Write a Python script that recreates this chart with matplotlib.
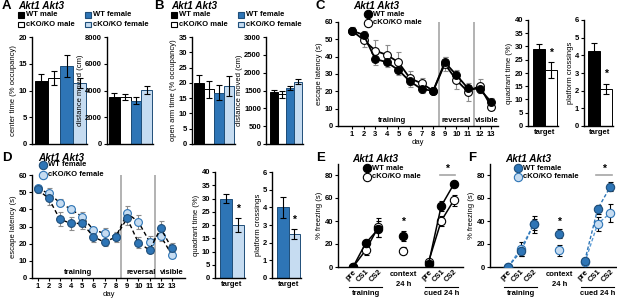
import matplotlib
matplotlib.use('Agg')
import matplotlib.pyplot as plt
import matplotlib.transforms as mtrans
from matplotlib.patches import Rectangle
from matplotlib.lines import Line2D
from matplotlib.ticker import FuncFormatter
import numpy as np

plt.rcParams['font.family'] = ['Liberation Sans', 'DejaVu Sans']
plt.rcParams['font.weight'] = 'bold'
plt.rcParams['font.size'] = 5.5

# ---------------- data ----------------
# A / B : four groups
groups4 = ['WT male', 'cKO/KO male', 'WT female', 'cKO/KO female']
center_time = [11.8, 12.3, 14.6, 11.4]
center_time_err = [1.3, 1.3, 2.0, 0.9]
dist_A = [3550, 3520, 3230, 4030]
dist_A_err = [250, 200, 250, 300]
open_arm = [19.9, 17.9, 16.8, 19.0]
open_arm_err = [2.8, 2.7, 2.5, 3.2]
dist_B = [1450, 1400, 1565, 1740]
dist_B_err = [70, 100, 60, 70]

# C / D : Morris water maze escape latency
days = list(range(1, 14))
C_wt = [55, 52.6, 38.7, 36.8, 32.3, 25.7, 21.3, 20.3, 36.8, 29.4, 21.7, 21.3, 13.9]
C_wt_err = [2, 2, 3.5, 3, 3, 3, 2, 2, 3, 3, 2, 2, 2]
C_ko = [55, 49.7, 43.5, 41, 36.8, 27.5, 24.6, 20.3, 35.8, 26.5, 19.7, 23.2, 11.2]
C_ko_err = [2, 4, 6, 6, 6, 4, 3, 2, 4, 5, 5, 4, 2]
D_wt = [51.6, 46.4, 34.2, 31.8, 31.8, 24.0, 20.8, 24.0, 34.8, 20.6, 16.3, 28.9, 17.3]
D_wt_err = [2, 4, 4, 4, 3, 3, 2, 2, 4, 3, 2, 4.5, 3]
D_ko = [52.2, 49.3, 43.9, 40.0, 35.7, 28.0, 26.0, 24.0, 37.7, 32.8, 21.2, 24.5, 13.4]
D_ko_err = [2, 3, 2, 2, 3, 2, 3, 3, 4, 4, 3, 3, 2]

C_quad = [29, 21]
C_quad_err = [2, 3]
C_cross = [4.25, 2.1]
C_cross_err = [0.45, 0.3]
D_quad = [30, 20]
D_quad_err = [1.8, 2.5]
D_cross = [4.0, 2.5]
D_cross_err = [0.6, 0.3]

# E / F : fear conditioning
fc_train_x = [0, 1, 2]
fc_ctx_x = [4]
fc_cued_x = [6, 7, 8]
fc_ticklabels = ['pre', 'CS1', 'CS2', 'pre', 'CS1', 'CS2']
E_wt_train = [0, 20.6, 33];  E_wt_train_err = [0, 3, 7]
E_ko_train = [0, 14.5, 34.5]; E_ko_train_err = [0, 4, 8]
E_wt_ctx = [27];  E_wt_ctx_err = [4]
E_ko_ctx = [14.2]; E_ko_ctx_err = [3]
E_wt_cued = [3, 53, 72];  E_wt_cued_err = [1, 4, 2]
E_ko_cued = [4.6, 40, 58]; E_ko_cued_err = [1, 4, 5]
F_wt_train = [0, 13.5, 37]; F_wt_train_err = [0, 4, 7]
F_ko_train = [0, 16, 37];   F_ko_train_err = [0, 6, 5]
F_wt_ctx = [29];   F_wt_ctx_err = [4]
F_ko_ctx = [14.5]; F_ko_ctx_err = [5]
F_wt_cued = [5.5, 50.3, 70]; F_wt_cued_err = [2, 4, 4]
F_ko_cued = [4, 37.4, 47];   F_ko_cued_err = [1, 6, 8]

# ---------------- style ----------------
BLACK = '#000000'; WHITE = '#FFFFFF'
BLUE = '#2E75B6'; LBLUE = '#C6DCF1'; EBLUE = '#1F4E79'
GRAYL = '#A6A6A6'; GRAYE = '#8C8C8C'
FS = 5.5

W, H = 617, 299
fig = plt.figure(figsize=(W / 100, H / 100), dpi=100)


def axes_px(x0, x1, ytop, ybot):
    ax = fig.add_axes([x0 / W, 1 - ybot / H, (x1 - x0) / W, (ybot - ytop) / H])
    ax.patch.set_alpha(0)
    for s in ['top', 'right']:
        ax.spines[s].set_visible(False)
    for s in ['left', 'bottom']:
        ax.spines[s].set_linewidth(1.0)
    ax.tick_params(axis='y', length=2, width=0.8, pad=1.5, labelsize=FS)
    ax.tick_params(axis='x', length=0, pad=2, labelsize=FS)
    return ax


intfmt = FuncFormatter(lambda v, p: '%d' % round(v))


def bar_panel(spine, bl, br, ytop, ybot, vals, errs, colors, edges, ymax, step,
              ylabel, xlabel=None, star=None):
    n = len(vals)
    unit = (br - bl) / n
    ax = axes_px(spine, br + 1, ytop, ybot)
    x = np.arange(n)
    ax.bar(x, vals, width=1.0, color=colors, edgecolor=edges, linewidth=0.7,
           yerr=errs, error_kw=dict(ecolor='black', elinewidth=0.8, capsize=2, capthick=0.8))
    ax.set_xlim(-0.5 - (bl - spine) / unit, n - 0.5 + 1 / unit)
    ax.set_ylim(0, ymax)
    ax.set_yticks(np.arange(0, ymax + step / 2, step))
    ax.yaxis.set_major_formatter(intfmt)
    ax.set_ylabel(ylabel, fontsize=FS, labelpad=1.0)
    if xlabel:
        ax.set_xticks([(n - 1) / 2])
        ax.set_xticklabels([xlabel])
    else:
        ax.set_xticks([])
    if star is not None:
        ax.text(1, star, '*', ha='center', va='center', fontsize=7.5)
    return ax


c4 = [BLACK, WHITE, BLUE, LBLUE]
e4 = [BLACK, BLACK, EBLUE, EBLUE]

# A
bar_panel(32, 35, 86, 37, 144, center_time, center_time_err, c4, e4, 20, 5,
          'center time (% occupancy)')
bar_panel(107, 109, 152, 37, 144, dist_A, dist_A_err, c4, e4, 8000, 2000,
          'distance moved (cm)')
# B
bar_panel(192, 194, 234, 37, 144, open_arm, open_arm_err, c4, e4, 35, 5,
          'open arm time (% occupancy)')
bar_panel(266, 270, 302, 37, 144, dist_B, dist_B_err, c4, e4, 3000, 500,
          'distance moved (cm)')

# C bars
bar_panel(528, 533, 557, 20, 126, C_quad, C_quad_err, [BLACK, WHITE], [BLACK, BLACK],
          40, 5, 'quadrant time (%)', 'target', star=27.5)
bar_panel(584, 588, 612, 20, 126, C_cross, C_cross_err, [BLACK, WHITE], [BLACK, BLACK],
          6, 1, 'platform crossings', 'target', star=2.95)
# D bars
bar_panel(215, 220, 244, 172, 278, D_quad, D_quad_err, [BLUE, LBLUE], [EBLUE, EBLUE],
          40, 5, 'quadrant time (%)', 'target', star=26)
bar_panel(272, 277, 300, 172, 278, D_cross, D_cross_err, [BLUE, LBLUE], [EBLUE, EBLUE],
          6, 1, 'platform crossings', 'target', star=3.3)


def maze_panel(spine, x1, day1px, step, ytop, ybot, s1, e1, s2, e2, style, labels_x):
    ax = axes_px(spine, x1, ytop, ybot)
    ax.set_xlim(1 - (day1px - spine) / step, 1 + (x1 - day1px) / step)
    ax.set_ylim(0, 60)
    ax.set_yticks(range(0, 61, 10))
    ax.set_xticks(days)
    ax.tick_params(axis='x', length=2, width=0.8, pad=1.5)
    for xv in (8.5, 11.5):
        ax.axvline(xv, color=GRAYL, lw=1.2, zorder=1)
    for (vals, errs, st) in ((s1, e1, style[0]), (s2, e2, style[1])):
        ax.errorbar(days, vals, yerr=errs, ecolor=GRAYE, elinewidth=0.8, capsize=1.8,
                    capthick=0.8, fmt='none', zorder=2)
        kw = dict(color=st['lc'], lw=st['lw'], marker='o', ms=5.6, mfc=st['mfc'],
                  mec=st['mec'], mew=0.8, zorder=st['z'])
        if st['ls'] == '--':
            ax.plot(days, vals, ls='--', dashes=(3, 2), **kw)
        else:
            ax.plot(days, vals, ls='-', **kw)
    for txt, xv in zip(['training', 'reversal', 'visible'], labels_x):
        ax.text(xv, 1.2, txt, ha='center', va='bottom', fontsize=FS)
    return ax


stC = [dict(ls='-', lc=BLACK, lw=1.3, mfc=BLACK, mec=BLACK, z=4),
       dict(ls='-', lc=BLACK, lw=1.3, mfc=WHITE, mec=BLACK, z=3)]
axC = maze_panel(338, 498, 352, 11.6, 22, 126, C_wt, C_wt_err, C_ko, C_ko_err, stC,
                 [4.45, 9.95, 12.6])
axC.set_ylabel('escape latency (s)', fontsize=FS, labelpad=1.5)
axC.set_xlabel('day', fontsize=FS, labelpad=1)

stD = [dict(ls='--', lc=BLACK, lw=1.0, mfc=BLUE, mec=EBLUE, z=4),
       dict(ls='--', lc=BLACK, lw=1.0, mfc=LBLUE, mec=BLUE, z=3)]
axD = maze_panel(32, 185, 37.5, 11.2, 175, 278, D_wt, D_wt_err, D_ko, D_ko_err, stD,
                 [4.6, 10.3, 13.0])
axD.set_ylabel('escape latency (s)', fontsize=FS, labelpad=1.5)
axD.set_xlabel('day', fontsize=FS, labelpad=1)


def fear_panel(spine, x1, prepx, step, ytop80, ybot, data, styles):
    ytop = ybot - (ybot - ytop80) * 90 / 80
    ax = axes_px(spine, x1, ytop, ybot)
    ax.set_xlim(-(prepx - spine) / step, (x1 - prepx) / step)
    ax.set_ylim(0, 90)
    ax.set_yticks(range(0, 81, 20))
    ax.set_xticks(fc_train_x + fc_cued_x)
    ax.set_xticklabels(fc_ticklabels, rotation=45, ha='right', rotation_mode='anchor')
    ax.tick_params(axis='x', length=0, pad=1)
    ax.set_ylabel('% freezing (s)', fontsize=FS, labelpad=1.5)
    for (tr, tre, cx, cxe, cu, cue), st in zip(data, styles):
        for xs, ys, es in ((fc_train_x, tr, tre), (fc_ctx_x, cx, cxe), (fc_cued_x, cu, cue)):
            ax.errorbar(xs, ys, yerr=es, ecolor='black', elinewidth=0.8, capsize=1.8,
                        capthick=0.8, fmt='none', zorder=2)
            kw = dict(color=st['lc'], lw=st['lw'], marker='o', ms=6, mfc=st['mfc'],
                      mec=st['mec'], mew=0.8, zorder=st['z'])
            if st['ls'] == '--':
                ax.plot(xs, ys, ls='--', dashes=(2.5, 1.5), **kw)
            else:
                ax.plot(xs, ys, ls='-', **kw)
    return ax


stE = [dict(ls='-', lc=BLACK, lw=1.1, mfc=BLACK, mec=BLACK, z=4),
       dict(ls='-', lc=BLACK, lw=1.1, mfc=WHITE, mec=BLACK, z=3)]
axE = fear_panel(338, 463, 353, 12.6, 175, 267,
                 [(E_wt_train, E_wt_train_err, E_wt_ctx, E_wt_ctx_err, E_wt_cued, E_wt_cued_err),
                  (E_ko_train, E_ko_train_err, E_ko_ctx, E_ko_ctx_err, E_ko_cued, E_ko_cued_err)],
                 stE)
stF = [dict(ls='--', lc=BLUE, lw=1.0, mfc=BLUE, mec=EBLUE, z=4),
       dict(ls='--', lc='#5B9BD5', lw=1.0, mfc=LBLUE, mec=BLUE, z=3)]
axF = fear_panel(490, 616, 508, 12.8, 175, 267,
                 [(F_wt_train, F_wt_train_err, F_wt_ctx, F_wt_ctx_err, F_wt_cued, F_wt_cued_err),
                  (F_ko_train, F_ko_train_err, F_ko_ctx, F_ko_ctx_err, F_ko_cued, F_ko_cued_err)],
                 stF)
for ax in (axE, axF):
    ax.text(4, 39, '*', ha='center', va='center', fontsize=7.5)
    ax.plot([6.9, 8.1], [80, 80], color=GRAYL, lw=1.2, clip_on=False)
    ax.text(7.5, 85, '*', ha='center', va='center', fontsize=7.5)

# ---------------- overlay for annotations ----------------
ov = fig.add_axes([0, 0, 1, 1])
ov.set_xlim(0, W); ov.set_ylim(H, 0); ov.axis('off')

for ax in (axE, axF):
    tr = mtrans.blended_transform_factory(ax.transData, ov.transData)
    ov.text(4, 275, 'context', transform=tr, ha='center', va='center', fontsize=FS)
    ov.text(4, 284, '24 h', transform=tr, ha='center', va='center', fontsize=FS)
    ov.add_line(Line2D([-0.3, 2.3], [287, 287], transform=tr, color=BLACK, lw=0.8))
    ov.add_line(Line2D([5.7, 8.3], [287, 287], transform=tr, color=BLACK, lw=0.8))
    ov.text(1, 293.5, 'training', transform=tr, ha='center', va='center', fontsize=FS)
    ov.text(7, 293.5, 'cued 24 h', transform=tr, ha='center', va='center', fontsize=FS)

# panel letters and titles
for L, x, y in (('A', 2, 6), ('B', 154, 6), ('C', 315, 6), ('D', 2, 158), ('E', 316, 158), ('F', 468, 158)):
    ov.text(x, y, L, ha='left', va='center', fontsize=9.5)
for x, y in ((18, 6), (171, 6), (353, 6), (38, 158), (352, 159), (505, 159)):
    ov.text(x, y, 'Akt1 Akt3', ha='left', va='center', fontsize=7.2, style='italic')


def sq_legend(x, y, fc, ec, label):
    ov.add_patch(Rectangle((x, y - 2.8), 5.6, 5.6, facecolor=fc, edgecolor=ec, lw=0.8))
    ov.text(x + 8.0, y, label, ha='left', va='center', fontsize=FS)


for x0 in (18, 171):
    sq_legend(x0, 15, BLACK, BLACK, 'WT male')
    sq_legend(x0, 24.5, WHITE, BLACK, 'cKO/KO male')
    sq_legend(x0 + 67, 15, BLUE, EBLUE, 'WT female')
    sq_legend(x0 + 67, 24.5, LBLUE, EBLUE, 'cKO/KO female')


def dot_legend(x, y, fc, ec, label):
    ov.plot([x], [y], marker='o', ms=6, mfc=fc, mec=ec, mew=0.8, ls='none')
    ov.text(x + 5, y, label, ha='left', va='center', fontsize=FS)


dot_legend(368, 14, BLACK, BLACK, 'WT male')
dot_legend(368, 23, WHITE, BLACK, 'cKO/KO male')
dot_legend(43, 165, BLUE, EBLUE, 'WT female')
dot_legend(43, 175, LBLUE, BLUE, 'cKO/KO female')
dot_legend(367, 168, BLACK, BLACK, 'WT male')
dot_legend(367, 177, WHITE, BLACK, 'cKO/KO male')
dot_legend(518, 168, BLUE, EBLUE, 'WT female')
dot_legend(518, 177, LBLUE, BLUE, 'cKO/KO female')

fig.savefig('out.png', dpi=100)
